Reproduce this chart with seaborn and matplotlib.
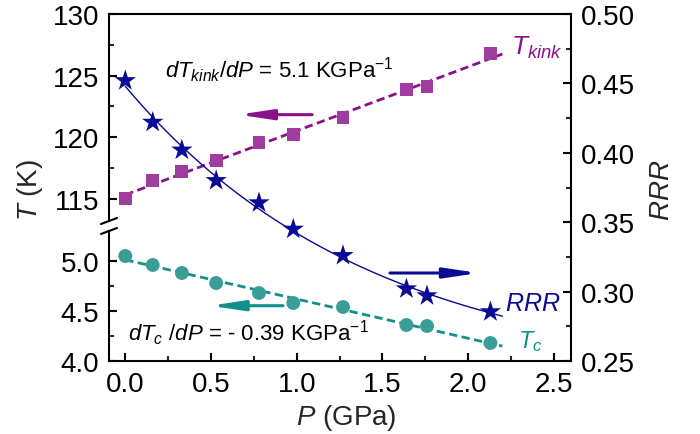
import numpy as np
import matplotlib
matplotlib.use("Agg")
import matplotlib.pyplot as plt
from matplotlib.lines import Line2D
from matplotlib.ticker import MultipleLocator, FixedLocator, FormatStrFormatter
import seaborn as sns

# ---------------- data ----------------
pressure = [0.0, 0.16, 0.33, 0.53, 0.78, 0.98, 1.27, 1.64, 1.76, 2.13]
t_kink = [115.0, 116.5, 117.2, 118.1, 119.6, 120.2, 121.6, 123.9, 124.1, 126.8]
rrr = [0.452, 0.422, 0.402, 0.380, 0.364, 0.345, 0.326, 0.302, 0.297, 0.2855]
t_c = [5.05, 4.96, 4.88, 4.78, 4.68, 4.58, 4.54, 4.36, 4.35, 4.18]
fit_range = [0.0, 2.2]

x_ticks = [0.0, 0.5, 1.0, 1.5, 2.0, 2.5]
upper_ticks = [115, 120, 125, 130]
lower_ticks = [4.0, 4.5, 5.0]
rrr_ticks = [0.25, 0.30, 0.35, 0.40, 0.45, 0.50]

# ---------------- style ----------------
sns.set_theme(style="ticks")
plt.rcParams["font.family"] = ["Liberation Sans", "DejaVu Sans"]
plt.rcParams["mathtext.fontset"] = "custom"
plt.rcParams["mathtext.rm"] = "Liberation Sans"
plt.rcParams["mathtext.it"] = "Liberation Sans:italic"
plt.rcParams["mathtext.bf"] = "Liberation Sans:bold"

C_KINK_M = "#A03CA0"
C_KINK_L = "#8B108B"
C_RRR = "#0A0A94"
C_TC_M = "#3A9E98"
C_TC_L = "#10908A"

W, H = 700, 435
fig = plt.figure(figsize=(W / 100, H / 100), dpi=100)


def rect(x0, y0, x1, y1):
    return [x0 / W, 1 - y1 / H, (x1 - x0) / W, (y1 - y0) / H]


def fpt(x, y):
    return (x / W, 1 - y / H)


XL, XR = 109, 571
ax_up = fig.add_axes(rect(XL, 15, XR, 222))
ax_lo = fig.add_axes(rect(XL, 232, XR, 362))
ax_r = fig.add_axes(rect(XL, 15, XR, 362))
ax_r.patch.set_visible(False)

xlim = (-0.095, 2.6)
for ax in (ax_up, ax_lo, ax_r):
    ax.set_xlim(*xlim)
    for s in ax.spines.values():
        s.set_linewidth(1.5)
        s.set_color("black")
ax_up.set_ylim(113.2, 130)
ax_lo.set_ylim(4.0, 5.3)
ax_r.set_ylim(0.25, 0.50)

# spines
for s in ("top", "right", "bottom"):
    ax_up.spines[s].set_visible(False)
for s in ("top", "right"):
    ax_lo.spines[s].set_visible(False)
ax_r.spines["left"].set_visible(False)
ax_r.spines["bottom"].set_visible(False)

tick_kw = dict(direction="in", labelsize=20, colors="black", pad=7)
# upper
ax_up.yaxis.set_major_locator(FixedLocator(upper_ticks))
ax_up.yaxis.set_minor_locator(FixedLocator([117.5, 122.5, 127.5]))
ax_up.tick_params(axis="y", which="major", length=6, width=1.5, **tick_kw)
ax_up.tick_params(axis="y", which="minor", length=3.5, width=1.5, direction="in")
ax_up.tick_params(axis="x", which="both", bottom=False, labelbottom=False)
# lower
ax_lo.yaxis.set_major_locator(FixedLocator(lower_ticks))
ax_lo.yaxis.set_minor_locator(FixedLocator([4.25, 4.75]))
ax_lo.yaxis.set_major_formatter(FormatStrFormatter("%.1f"))
ax_lo.xaxis.set_major_locator(FixedLocator(x_ticks))
ax_lo.xaxis.set_minor_locator(MultipleLocator(0.25))
ax_lo.xaxis.set_major_formatter(FormatStrFormatter("%.1f"))
ax_lo.tick_params(axis="both", which="major", length=6, width=1.5, **tick_kw)
ax_lo.tick_params(axis="both", which="minor", length=3.5, width=1.5, direction="in")
# right (RRR)
ax_r.yaxis.tick_right()
ax_r.yaxis.set_major_locator(FixedLocator(rrr_ticks))
ax_r.yaxis.set_minor_locator(MultipleLocator(0.025))
ax_r.yaxis.set_major_formatter(FormatStrFormatter("%.2f"))
ax_r.tick_params(axis="y", which="major", length=6, width=1.5, left=False, right=True, **tick_kw)
ax_r.tick_params(axis="y", which="minor", length=3.5, width=1.5, direction="in", left=False, right=True)
ax_r.tick_params(axis="x", which="both", bottom=False, top=False, labelbottom=False)

# ---------------- fits ----------------
fx = np.array(fit_range)
k_coef = np.polyfit(pressure, t_kink, 1)
c_coef = np.polyfit(pressure, t_c, 1)

# exponential-decay fit for RRR: a*exp(-P/tau) + c
p_arr = np.asarray(pressure)
r_arr = np.asarray(rrr)
best = None
for tau in np.linspace(0.3, 15, 800):
    A = np.column_stack([np.exp(-p_arr / tau), np.ones_like(p_arr)])
    coef, res, *_ = np.linalg.lstsq(A, r_arr, rcond=None)
    err = np.sum((A @ coef - r_arr) ** 2)
    if best is None or err < best[0]:
        best = (err, tau, coef)
_, tau_b, coef_b = best
fx_curve = np.linspace(fit_range[0], fit_range[1], 120)
fy_curve = coef_b[0] * np.exp(-fx_curve / tau_b) + coef_b[1]

sns.lineplot(x=fx, y=np.polyval(k_coef, fx), ax=ax_up, color=C_KINK_L, lw=2.0)
ax_up.lines[-1].set_dashes([3.0, 1.6])
sns.scatterplot(x=pressure, y=t_kink, ax=ax_up, marker="s", s=85, color=C_KINK_M,
                edgecolor="none", zorder=3, clip_on=False)

sns.lineplot(x=fx, y=np.polyval(c_coef, fx), ax=ax_lo, color=C_TC_L, lw=2.0)
ax_lo.lines[-1].set_dashes([3.0, 1.6])
sns.scatterplot(x=pressure, y=t_c, ax=ax_lo, marker="o", s=100, color=C_TC_M,
                edgecolor="none", zorder=3, clip_on=False)

sns.lineplot(x=fx_curve, y=fy_curve, ax=ax_r, color=C_RRR, lw=1.0)
sns.scatterplot(x=pressure, y=rrr, ax=ax_r, marker="*", s=260, color=C_RRR,
                edgecolor="none", zorder=4, clip_on=False)
for ax in (ax_up, ax_lo, ax_r):
    ax.set_xlabel("")
    ax.set_ylabel("")
    if ax.get_legend():
        ax.get_legend().remove()

# ---------------- arrows ----------------
astyle = "-|>,head_length=2.0,head_width=0.3"
ax_up.annotate("", xy=(0.66, 121.83), xytext=(1.09, 121.83),
               arrowprops=dict(arrowstyle=astyle, color=C_KINK_L, lw=2.2,
                               mutation_scale=10, shrinkA=0, shrinkB=0))
ax_r.annotate("", xy=(2.06, 0.3134), xytext=(1.544, 0.3134),
              arrowprops=dict(arrowstyle=astyle, color=C_RRR, lw=2.2,
                              mutation_scale=10, shrinkA=0, shrinkB=0))
ax_lo.annotate("", xy=(0.495, 4.553), xytext=(0.92, 4.553),
               arrowprops=dict(arrowstyle=astyle, color=C_TC_L, lw=2.2,
                               mutation_scale=10, shrinkA=0, shrinkB=0))

# ---------------- break marks ----------------
for yb in (225, 235):
    fig.add_artist(Line2D([101 / W, 117 / W], [1 - yb / H, 1 - (yb - 6) / H],
                          color="black", lw=1.5, transform=fig.transFigure))

# ---------------- texts ----------------
fig.text(*fpt(165, 78), r"$dT_{kink}/dP$ = 5.1 KGPa$^{-1}$", fontsize=16,
         ha="left", va="baseline", color="black")
fig.text(*fpt(128, 341), r"$dT_{c}$ /$dP$ = - 0.39 KGPa$^{-1}$", fontsize=16,
         ha="left", va="baseline", color="black")
fig.text(*fpt(511, 55), r"$T_{kink}$", fontsize=19, ha="left", va="baseline", color=C_KINK_L)
fig.text(*fpt(505, 311), r"$RRR$", fontsize=18, ha="left", va="baseline", color=C_RRR)
fig.text(*fpt(518, 348), r"$T_{c}$", fontsize=17, ha="left", va="baseline", color=C_TC_L)

fig.text(*fpt(30, 190), r"$T$ (K)", fontsize=20, rotation=90, ha="center", va="center")
fig.text(*fpt(662, 190), r"$RRR$", fontsize=20, rotation=90, ha="center", va="center")
fig.text(*fpt(346, 418), r"$P$ (GPa)", fontsize=20, ha="center", va="center")

fig.savefig("out.png", dpi=100)
